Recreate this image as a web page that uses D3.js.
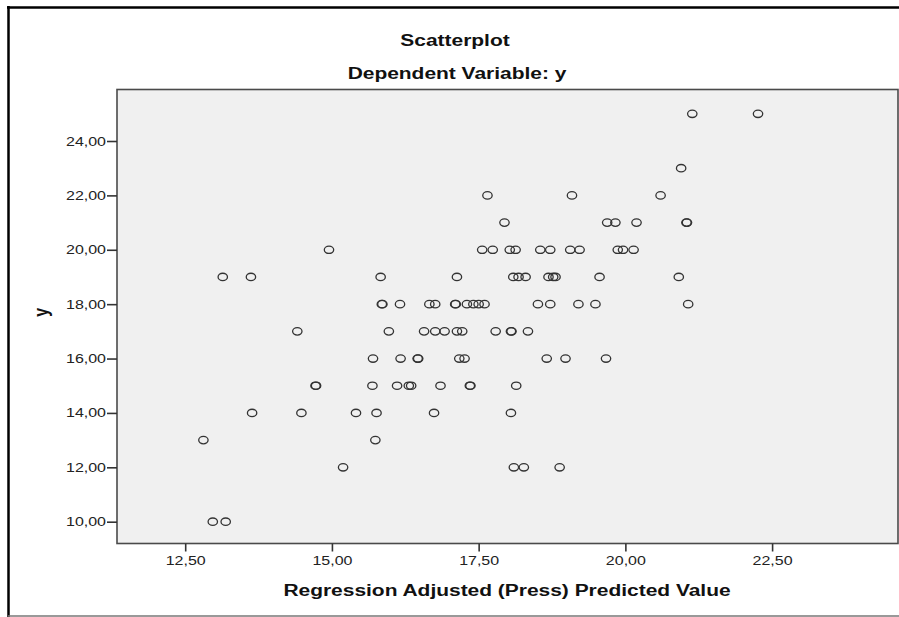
<!DOCTYPE html>
<html>
<head>
<meta charset="utf-8">
<script src="https://cdn.jsdelivr.net/npm/d3@7"></script>
<style>
  body { margin: 0; background: #fff; }
  svg { display: block; font-family: "Liberation Sans", Arial, sans-serif; }
</style>
</head>
<body>
<div id="chart"></div>
<script>
const observed = [
  25, 25,
  23,
  22, 22, 22,
  21, 21, 21, 21, 21, 21,
  20, 20, 20, 20, 20, 20, 20, 20, 20, 20, 20, 20,
  19, 19, 19, 19, 19, 19, 19, 19, 19, 19, 19, 19,
  18, 18, 18, 18, 18, 18, 18, 18, 18, 18, 18, 18, 18, 18, 18, 18,
  17, 17, 17, 17, 17, 17, 17, 17, 17, 17, 17,
  16, 16, 16, 16, 16, 16, 16, 16, 16,
  15, 15, 15, 15, 15, 15, 15, 15, 15, 15,
  14, 14, 14, 14, 14, 14,
  13, 13,
  12, 12, 12, 12,
  10, 10
];

// Adjusted (press) predicted value, same order as observed
const predicted = [
  21.14, 22.26,
  20.95,
  17.65, 19.09, 20.60,
  17.94, 19.69, 19.83, 20.19, 21.04, 21.05,
  14.95, 17.56, 17.74, 18.03, 18.13, 18.55, 18.72, 19.06, 19.22, 19.87, 19.96, 20.14,
  13.14, 13.62, 15.83, 17.13, 18.09, 18.18, 18.30, 18.69, 18.77, 18.81, 19.56, 20.91,
  15.85, 15.86, 16.16, 16.66, 16.76, 17.10, 17.11, 17.30, 17.41, 17.50, 17.60, 18.51, 18.72, 19.20, 19.49, 21.07,
  14.41, 15.97, 16.57, 16.76, 16.92, 17.13, 17.22, 17.79, 18.05, 18.06, 18.34,
  15.70, 16.17, 16.46, 16.47, 17.17, 17.26, 18.66, 18.98, 19.67,
  14.72, 14.73, 15.69, 16.11, 16.31, 16.35, 16.85, 17.35, 17.36, 18.14,
  13.64, 14.48, 15.41, 15.76, 16.74, 18.05,
  12.81, 15.74,
  15.19, 18.10, 18.27, 18.88,
  12.97, 13.19
];

const xTicks = [12.5, 15, 17.5, 20, 22.5];
const yTicks = [10, 12, 14, 16, 18, 20, 22, 24];

const title = "Scatterplot";
const subtitle = "Dependent Variable: y";
const xTitle = "Regression Adjusted (Press) Predicted Value";
const yTitle = "y";

const width = 899, height = 617;
const plot = { left: 117, right: 898, top: 89.5, bottom: 543.5 };
// the original export is stretched sideways, so text and markers are too
const stretch = 1.28;
const titleStretch = 1.31;

// SPSS style numbers: comma as decimal mark
const locale = d3.formatLocale({ decimal: ",", thousands: ".", grouping: [3], currency: ["", ""] });
const fmt = locale.format(".2f");

const data = predicted.map((p, i) => ({ x: p, y: observed[i] }));

const svg = d3.select("#chart")
  .append("svg")
  .attr("width", width)
  .attr("height", height);

svg.append("rect")
  .attr("width", width)
  .attr("height", height)
  .attr("fill", "#fff");

// outer frame (left + top black, bottom grey)
svg.append("line")
  .attr("x1", 8.5).attr("x2", 8.5).attr("y1", 6).attr("y2", height)
  .attr("stroke", "#000").attr("stroke-width", 2.5);
svg.append("line")
  .attr("x1", 7).attr("x2", width).attr("y1", 7.5).attr("y2", 7.5)
  .attr("stroke", "#000").attr("stroke-width", 2.5);
svg.append("line")
  .attr("x1", 8).attr("x2", width).attr("y1", 616).attr("y2", 616)
  .attr("stroke", "#777").attr("stroke-width", 1.5);

const x = d3.scaleLinear()
  .domain([12.5 - (185.2 - plot.left) / 58.69, 12.5 + (plot.right - 185.2) / 58.69])
  .range([plot.left, plot.right]);

const y = d3.scaleLinear()
  .domain([10 - (plot.bottom - 521.7) / 27.19, 24 + (141 - plot.top) / 27.19])
  .range([plot.bottom, plot.top]);

svg.append("rect")
  .attr("x", plot.left)
  .attr("y", plot.top)
  .attr("width", plot.right - plot.left)
  .attr("height", plot.bottom - plot.top)
  .attr("fill", "#f0f0f0")
  .attr("stroke", "#4a4a4a")
  .attr("stroke-width", 1.6);

const xAxis = svg.append("g")
  .attr("transform", `translate(0,${plot.bottom})`)
  .call(d3.axisBottom(x).tickValues(xTicks).tickFormat(fmt).tickSize(8).tickSizeOuter(0).tickPadding(5));
xAxis.select(".domain").remove();
xAxis.selectAll("line").attr("stroke", "#333").attr("stroke-width", 1.6);
xAxis.selectAll("text")
  .attr("fill", "#222")
  .attr("font-size", 12.5)
  .attr("transform", `scale(${stretch},1)`);

const yAxis = svg.append("g")
  .attr("transform", `translate(${plot.left},0)`)
  .call(d3.axisLeft(y).tickValues(yTicks).tickFormat(fmt).tickSize(10).tickSizeOuter(0).tickPadding(1));
yAxis.select(".domain").remove();
yAxis.selectAll("line").attr("stroke", "#333").attr("stroke-width", 1.6);
yAxis.selectAll("text")
  .attr("fill", "#222")
  .attr("font-size", 12.5)
  .attr("x", -11 / stretch)
  .attr("transform", `scale(${stretch},1)`);

svg.append("g")
  .selectAll("ellipse")
  .data(data)
  .join("ellipse")
  .attr("cx", (d) => x(d.x))
  .attr("cy", (d) => y(d.y))
  .attr("rx", 4.7)
  .attr("ry", 3.7)
  .attr("fill", "none")
  .attr("stroke", "#333")
  .attr("stroke-width", 1.3);

function stretchedText(text, cx, cy, size) {
  svg.append("text")
    .attr("transform", `translate(${cx},${cy}) scale(${titleStretch},1)`)
    .attr("text-anchor", "middle")
    .attr("font-size", size)
    .attr("font-weight", "bold")
    .attr("fill", "#111")
    .text(text);
}

stretchedText(title, 455, 46, 16);
stretchedText(subtitle, 457, 79, 16);
stretchedText(xTitle, 507, 596, 16);

svg.append("text")
  .attr("transform", `translate(48,${y(17.7)}) scale(${stretch},1) rotate(-90)`)
  .attr("text-anchor", "middle")
  .attr("font-size", 16)
  .attr("font-weight", "bold")
  .attr("fill", "#111")
  .text(yTitle);
</script>
</body>
</html>
